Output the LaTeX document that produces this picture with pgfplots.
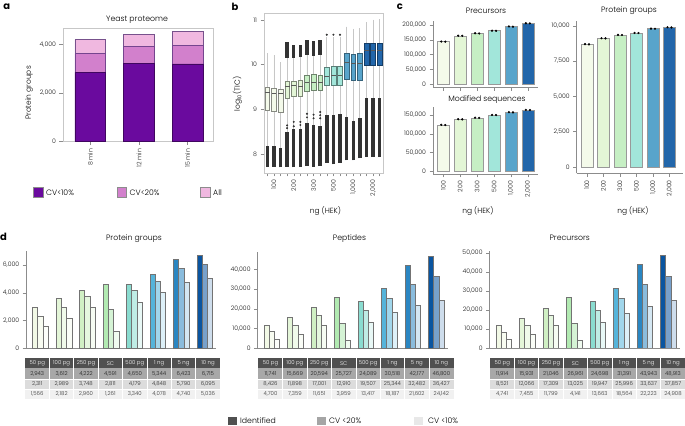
\documentclass[border=0pt]{standalone}
\usepackage{fontspec}
\setmainfont{Poppins}[UprightFont={* Light}, BoldFont={* Bold}]
\usepackage{pgfplots}
\pgfplotsset{compat=1.18}
\usepgfplotslibrary{statistics}

\definecolor{pa1}{HTML}{6A0A9E}
\definecolor{pa2}{HTML}{D280CC}
\definecolor{pa3}{HTML}{F0B8E0}
\definecolor{g1}{HTML}{F4FAEA}
\definecolor{g2}{HTML}{E3F6D6}
\definecolor{g3}{HTML}{C6EFC4}
\definecolor{g4}{HTML}{A2E6DA}
\definecolor{g5}{HTML}{58A4CB}
\definecolor{g6}{HTML}{2266AA}
\definecolor{d1}{HTML}{F2F9E6}
\definecolor{d2}{HTML}{E4F6D8}
\definecolor{d3}{HTML}{D0F0C4}
\definecolor{d4}{HTML}{B2EAB2}
\definecolor{d5}{HTML}{8ADCD0}
\definecolor{d6}{HTML}{55B4DA}
\definecolor{d7}{HTML}{2A86C2}
\definecolor{d8}{HTML}{0A55A0}
\definecolor{th}{HTML}{505050}
\definecolor{r1}{HTML}{A8A8A8}
\definecolor{r2}{HTML}{DCDCDC}
\definecolor{r3}{HTML}{F1F1F1}
\definecolor{lg1}{HTML}{505050}
\definecolor{lg2}{HTML}{A5A5A5}
\definecolor{lg3}{HTML}{E8E8E8}

\pgfplotsset{
 myax/.style={scale only axis, anchor=south west,
   /pgf/number format/fixed,
   /pgf/number format/assume math mode=true,
   /pgf/number format/1000 sep={,},
   scaled y ticks=false,
   tick label style={font=\fontsize{6.2}{7}\selectfont, text=black!90},
   tick align=outside, major tick length=3.5bp,
   tick style={black!45, line width=0.5bp}},
 frameax/.style={myax, axis line style={black!22, line width=0.9bp}, xtick pos=left, ytick pos=left},
 spineax/.style={myax, axis x line*=bottom, axis y line*=left, axis line style={-, black!45, line width=0.7bp}},
 cb/.style={ybar, bar width=0.71, draw=black!40, line width=0.5bp},
 cm/.style={only marks, mark=*, mark size=0.9bp, black},
 dA/.style={ybar, bar width=0.225, bar shift=-0.225, draw=black!55, line width=0.4bp},
 dB/.style={ybar, bar width=0.225, bar shift=0, draw=black!55, line width=0.4bp},
 dC/.style={ybar, bar width=0.225, bar shift=0.225, draw=black!55, line width=0.4bp},
 ob/.style={draw=black!80, line width=3.4bp},
 od/.style={only marks, mark=*, mark size=0.8bp, black!80},
}
\tikzset{
 ttl/.style={font=\fontsize{7.8}{9}\selectfont, inner sep=0},
 lab/.style={font=\fontsize{7.5}{9}\selectfont, inner sep=0},
 leg/.style={font=\fontsize{7.8}{9}\selectfont, inner sep=0, anchor=west},
 tab/.style={font=\fontsize{5.4}{6}\selectfont, inner sep=0},
 pl/.style={font=\bfseries\fontsize{10}{12}\selectfont, inner sep=0},
}

\newcommand\tbl[4]{%
 \fill[th] (#1,358.2) rectangle ++(195.2,10.3);
 \fill[r1] (#1,368.5) rectangle ++(195.2,10.3);
 \fill[r2] (#1,378.8) rectangle ++(195.2,10.3);
 \fill[r3] (#1,389.1) rectangle ++(195.2,10.3);
 \foreach \k in {1,...,7} {\draw[white, line width=0.7] (#1+\k*24.4,358.2) -- ++(0,41.2);}
 \draw[white, line width=0.5] (#1,378.8) -- ++(195.2,0) (#1,389.1) -- ++(195.2,0);
 \foreach \tx [count=\i] in {50 pg,100 pg,250 pg,SC,500 pg,1 ng,5 ng,10 ng} {\node[tab, text=white] at (#1+\i*24.4-12.2,363.35) {\tx};}
 \foreach \tx [count=\i] in {#2} {\node[tab, text=black!90] at (#1+\i*24.4-12.2,373.65) {\tx};}
 \foreach \tx [count=\i] in {#3} {\node[tab, text=black!85] at (#1+\i*24.4-12.2,383.95) {\tx};}
 \foreach \tx [count=\i] in {#4} {\node[tab, text=black!80] at (#1+\i*24.4-12.2,394.25) {\tx};}
}

\begin{document}
\begin{tikzpicture}
\path[use as bounding box] (0,0) rectangle (685bp,426bp);

% ---------- panel a ----------
\begin{axis}[frameax, at={(63bp,284.3bp)}, width=150bp, height=113.4bp,
  xmin=0.44, xmax=3.52, ymin=0, ymax=4676, ytick={0,2000,4000},
  xtick={1,2,3}, xticklabels={8 min,12 min,15 min},
  xticklabel style={rotate=90, anchor=east},
  ybar stacked, bar width=0.63]
\addplot[fill=pa1, draw=pa1!60!black, line width=0.5bp] coordinates {(1,2862) (2,3233) (3,3204)};
\addplot[fill=pa2, draw=pa1!50!gray, line width=0.5bp] coordinates {(1,767) (2,701) (3,771)};
\addplot[fill=pa3, draw=pa1!40!gray, line width=0.5bp] coordinates {(1,577) (2,495) (3,561)};
\end{axis}

% ---------- panel b ----------
\begin{axis}[frameax, at={(264bp,253bp)}, width=119bp, height=159.7bp,
  xmin=0.5, xmax=18.5, ymin=7.575, ymax=11.15, ytick={8,9,10,11},
  xtick={1,...,18}, xticklabels={,100,,,200,,,300,,,500,,,{1,000},,,{2,000},},
  xticklabel style={rotate=90, anchor=east},
  boxplot/draw direction=y,
  boxplot/box extend=0.72, boxplot/whisker extend=0,
  boxplot/every whisker/.style={draw=black!22, line width=0.8bp},
  boxplot/every median/.style={draw=black!65, line width=0.7bp},
  boxplot/every box/.style={line width=0.5bp}]
% whiskers and boxes
\addplot[fill=g1, draw=g1!55!black, boxplot prepared={draw position=1, lower whisker=7.72, lower quartile=8.97, median=9.37, upper quartile=9.49, upper whisker=10.25}] coordinates {};
\addplot[fill=g1, draw=g1!55!black, boxplot prepared={draw position=2, lower whisker=7.72, lower quartile=8.96, median=9.35, upper quartile=9.48, upper whisker=10.22}] coordinates {};
\addplot[fill=g1, draw=g1!55!black, boxplot prepared={draw position=3, lower whisker=7.70, lower quartile=8.93, median=9.35, upper quartile=9.46, upper whisker=10.06}] coordinates {};
\addplot[fill=g2, draw=g2!55!black, boxplot prepared={draw position=4, lower whisker=7.72, lower quartile=9.25, median=9.52, upper quartile=9.62, upper whisker=10.51}] coordinates {};
\addplot[fill=g2, draw=g2!55!black, boxplot prepared={draw position=5, lower whisker=7.70, lower quartile=9.30, median=9.53, upper quartile=9.63, upper whisker=10.45}] coordinates {};
\addplot[fill=g2, draw=g2!55!black, boxplot prepared={draw position=6, lower whisker=7.72, lower quartile=9.30, median=9.52, upper quartile=9.64, upper whisker=10.45}] coordinates {};
\addplot[fill=g3, draw=g3!55!black, boxplot prepared={draw position=7, lower whisker=7.73, lower quartile=9.40, median=9.60, upper quartile=9.77, upper whisker=10.55}] coordinates {};
\addplot[fill=g3, draw=g3!55!black, boxplot prepared={draw position=8, lower whisker=7.72, lower quartile=9.43, median=9.60, upper quartile=9.78, upper whisker=10.53}] coordinates {};
\addplot[fill=g3, draw=g3!55!black, boxplot prepared={draw position=9, lower whisker=7.73, lower quartile=9.42, median=9.60, upper quartile=9.77, upper whisker=10.55}] coordinates {};
\addplot[fill=g4, draw=g4!55!black, boxplot prepared={draw position=10, lower whisker=7.80, lower quartile=9.53, median=9.73, upper quartile=9.95, upper whisker=10.62}] coordinates {};
\addplot[fill=g4, draw=g4!55!black, boxplot prepared={draw position=11, lower whisker=7.77, lower quartile=9.55, median=9.75, upper quartile=9.97, upper whisker=10.62}] coordinates {};
\addplot[fill=g4, draw=g4!55!black, boxplot prepared={draw position=12, lower whisker=7.80, lower quartile=9.53, median=9.76, upper quartile=9.97, upper whisker=10.62}] coordinates {};
\addplot[fill=g5, draw=g5!60!black, boxplot prepared={draw position=13, lower whisker=7.86, lower quartile=9.68, median=10.05, upper quartile=10.25, upper whisker=10.85}] coordinates {};
\addplot[fill=g5, draw=g5!60!black, boxplot prepared={draw position=14, lower whisker=7.86, lower quartile=9.65, median=10.03, upper quartile=10.24, upper whisker=10.80}] coordinates {};
\addplot[fill=g5, draw=g5!60!black, boxplot prepared={draw position=15, lower whisker=7.90, lower quartile=9.66, median=10.04, upper quartile=10.25, upper whisker=10.82}] coordinates {};
\addplot[fill=g6, draw=g6!60!black, boxplot prepared={draw position=16, lower whisker=7.93, lower quartile=9.98, median=10.32, upper quartile=10.47, upper whisker=10.95}] coordinates {};
\addplot[fill=g6, draw=g6!60!black, boxplot prepared={draw position=17, lower whisker=7.93, lower quartile=9.98, median=10.32, upper quartile=10.47, upper whisker=11.00}] coordinates {};
\addplot[fill=g6, draw=g6!60!black, boxplot prepared={draw position=18, lower whisker=7.93, lower quartile=9.98, median=10.32, upper quartile=10.47, upper whisker=11.02}] coordinates {};
% dense outliers (low)
\addplot[ob] coordinates {(1,7.72) (1,8.17)};
\addplot[ob] coordinates {(2,7.72) (2,8.18)};
\addplot[ob] coordinates {(3,7.70) (3,8.13)};
\addplot[ob] coordinates {(4,7.72) (4,8.50)};
\addplot[ob] coordinates {(5,7.70) (5,8.55)};
\addplot[ob] coordinates {(6,7.72) (6,8.55)};
\addplot[ob] coordinates {(7,7.73) (7,8.70)};
\addplot[ob] coordinates {(8,7.72) (8,8.65)};
\addplot[ob] coordinates {(9,7.73) (9,8.62)};
\addplot[ob] coordinates {(10,7.80) (10,8.88)};
\addplot[ob] coordinates {(11,7.77) (11,8.88)};
\addplot[ob] coordinates {(12,7.80) (12,8.90)};
\addplot[ob] coordinates {(13,7.86) (13,8.82)};
\addplot[ob] coordinates {(14,7.86) (14,8.75)};
\addplot[ob] coordinates {(15,7.90) (15,8.80)};
\addplot[ob] coordinates {(16,7.93) (16,9.25)};
\addplot[ob] coordinates {(17,7.93) (17,9.25)};
\addplot[ob] coordinates {(18,7.93) (18,9.25)};
% dense outliers (high)
\addplot[ob] coordinates {(4,10.15) (4,10.51)};
\addplot[ob] coordinates {(5,10.15) (5,10.45)};
\addplot[ob] coordinates {(6,10.17) (6,10.45)};
\addplot[ob] coordinates {(7,10.22) (7,10.55)};
\addplot[ob] coordinates {(8,10.20) (8,10.53)};
\addplot[ob] coordinates {(9,10.22) (9,10.55)};
% sparse outliers
\addplot[od] coordinates {(4,8.58) (4,8.64) (5,8.62) (5,8.72) (6,8.65) (6,8.72) (7,8.82) (7,8.90) (8,8.80) (8,8.88) (9,8.80) (9,8.87) (9,8.94) (10,10.67) (11,10.67) (12,10.67)};
\end{axis}

% ---------- panel c : precursors ----------
\begin{axis}[spineax, at={(433bp,338.7bp)}, width=105bp, height=66.3bp,
  xmin=0.39, xmax=6.6, ymin=-10135, ymax=213900, ytick={0,50000,100000,150000,200000},
  xtick={1,...,6}, xticklabels={}]
\addplot[cb, fill=g1] coordinates {(1,144000)};
\addplot[cb, fill=g2] coordinates {(2,164000)};
\addplot[cb, fill=g3] coordinates {(3,172000)};
\addplot[cb, fill=g4] coordinates {(4,181000)};
\addplot[cb, fill=g5] coordinates {(5,195000)};
\addplot[cb, fill=g6] coordinates {(6,206000)};
\addplot[cm] coordinates {(0.88,144500) (1.12,144000) (1.88,164300) (2.12,163800) (2.88,172400) (3.12,171800) (3.88,181200) (4.12,180800) (4.88,195400) (5.12,194700) (5.88,206300) (6.12,205800)};
\end{axis}

% ---------- panel c : modified sequences ----------
\begin{axis}[spineax, at={(433bp,252bp)}, width=105bp, height=67bp,
  xmin=0.39, xmax=6.6, ymin=-8065, ymax=172000, ytick={0,50000,100000,150000},
  xtick={1,...,6}, xticklabels={100,200,300,500,{1,000},{2,000}},
  xticklabel style={rotate=90, anchor=east}]
\addplot[cb, fill=g1] coordinates {(1,123700)};
\addplot[cb, fill=g2] coordinates {(2,139000)};
\addplot[cb, fill=g3] coordinates {(3,143000)};
\addplot[cb, fill=g4] coordinates {(4,150500)};
\addplot[cb, fill=g5] coordinates {(5,157800)};
\addplot[cb, fill=g6] coordinates {(6,164000)};
\addplot[cm] coordinates {(0.88,124000) (1.12,123500) (1.88,139200) (2.12,138800) (2.88,143300) (3.12,142800) (3.88,150700) (4.12,150300) (4.88,158100) (5.12,157500) (5.88,164300) (6.12,163800)};
\end{axis}

% ---------- panel c : protein groups ----------
\begin{axis}[spineax, at={(576.7bp,252.7bp)}, width=106.3bp, height=152.6bp,
  xmin=0.376, xmax=6.82, ymin=-446, ymax=10361, ytick={0,2500,5000,7500,10000},
  xtick={1,...,6}, xticklabels={100,200,300,500,{1,000},{2,000}},
  xticklabel style={rotate=90, anchor=east}]
\addplot[cb, fill=g1] coordinates {(1,8690)};
\addplot[cb, fill=g2] coordinates {(2,9115)};
\addplot[cb, fill=g3] coordinates {(3,9350)};
\addplot[cb, fill=g4] coordinates {(4,9490)};
\addplot[cb, fill=g5] coordinates {(5,9795)};
\addplot[cb, fill=g6] coordinates {(6,9890)};
\addplot[cm] coordinates {(0.88,8700) (1.12,8685) (1.88,9120) (2.12,9110) (2.88,9355) (3.12,9345) (3.88,9495) (4.12,9485) (4.88,9800) (5.12,9790) (5.88,9895) (6.12,9885)};
\end{axis}

% ---------- panel d : protein groups ----------
\begin{axis}[spineax, at={(26.2bp,77.8bp)}, width=190.3bp, height=97.5bp,
  xmin=0.4, xmax=8.5, ymin=0, ymax=7040, ytick={0,2000,4000,6000}, xtick=\empty]
\addplot[dA, fill=d1] coordinates {(1,2943)};
\addplot[dB, fill=d1!55!white] coordinates {(1,2311)};
\addplot[dC, fill=d1!20!white] coordinates {(1,1566)};
\addplot[dA, fill=d2] coordinates {(2,3612)};
\addplot[dB, fill=d2!55!white] coordinates {(2,2989)};
\addplot[dC, fill=d2!20!white] coordinates {(2,2182)};
\addplot[dA, fill=d3] coordinates {(3,4222)};
\addplot[dB, fill=d3!55!white] coordinates {(3,3748)};
\addplot[dC, fill=d3!20!white] coordinates {(3,2960)};
\addplot[dA, fill=d4] coordinates {(4,4591)};
\addplot[dB, fill=d4!55!white] coordinates {(4,2811)};
\addplot[dC, fill=d4!20!white] coordinates {(4,1261)};
\addplot[dA, fill=d5] coordinates {(5,4650)};
\addplot[dB, fill=d5!55!white] coordinates {(5,4179)};
\addplot[dC, fill=d5!20!white] coordinates {(5,3340)};
\addplot[dA, fill=d6] coordinates {(6,5344)};
\addplot[dB, fill=d6!55!white] coordinates {(6,4848)};
\addplot[dC, fill=d6!20!white] coordinates {(6,4078)};
\addplot[dA, fill=d7] coordinates {(7,6423)};
\addplot[dB, fill=d7!55!white] coordinates {(7,5790)};
\addplot[dC, fill=d7!20!white] coordinates {(7,4740)};
\addplot[dA, fill=d8] coordinates {(8,6715)};
\addplot[dB, fill=d8!55!white] coordinates {(8,6095)};
\addplot[dC, fill=d8!20!white] coordinates {(8,5036)};
\end{axis}

% ---------- panel d : peptides ----------
\begin{axis}[spineax, at={(257.6bp,77.7bp)}, width=190.35bp, height=96.6bp,
  xmin=0.4, xmax=8.5, ymin=0, ymax=48911, ytick={0,10000,20000,30000,40000}, xtick=\empty]
\addplot[dA, fill=d1] coordinates {(1,11741)};
\addplot[dB, fill=d1!55!white] coordinates {(1,8426)};
\addplot[dC, fill=d1!20!white] coordinates {(1,4700)};
\addplot[dA, fill=d2] coordinates {(2,15669)};
\addplot[dB, fill=d2!55!white] coordinates {(2,11898)};
\addplot[dC, fill=d2!20!white] coordinates {(2,7359)};
\addplot[dA, fill=d3] coordinates {(3,20594)};
\addplot[dB, fill=d3!55!white] coordinates {(3,17001)};
\addplot[dC, fill=d3!20!white] coordinates {(3,11651)};
\addplot[dA, fill=d4] coordinates {(4,25727)};
\addplot[dB, fill=d4!55!white] coordinates {(4,12910)};
\addplot[dC, fill=d4!20!white] coordinates {(4,3959)};
\addplot[dA, fill=d5] coordinates {(5,24089)};
\addplot[dB, fill=d5!55!white] coordinates {(5,19507)};
\addplot[dC, fill=d5!20!white] coordinates {(5,13417)};
\addplot[dA, fill=d6] coordinates {(6,30518)};
\addplot[dB, fill=d6!55!white] coordinates {(6,25344)};
\addplot[dC, fill=d6!20!white] coordinates {(6,18187)};
\addplot[dA, fill=d7] coordinates {(7,42177)};
\addplot[dB, fill=d7!55!white] coordinates {(7,32482)};
\addplot[dC, fill=d7!20!white] coordinates {(7,21602)};
\addplot[dA, fill=d8] coordinates {(8,46800)};
\addplot[dB, fill=d8!55!white] coordinates {(8,36427)};
\addplot[dC, fill=d8!20!white] coordinates {(8,24142)};
\end{axis}

% ---------- panel d : precursors ----------
\begin{axis}[spineax, at={(489.6bp,78bp)}, width=190.4bp, height=97.3bp,
  xmin=0.4, xmax=8.5, ymin=0, ymax=51210, ytick={0,10000,20000,30000,40000,50000}, xtick=\empty]
\addplot[dA, fill=d1] coordinates {(1,11914)};
\addplot[dB, fill=d1!55!white] coordinates {(1,8521)};
\addplot[dC, fill=d1!20!white] coordinates {(1,4741)};
\addplot[dA, fill=d2] coordinates {(2,15931)};
\addplot[dB, fill=d2!55!white] coordinates {(2,12066)};
\addplot[dC, fill=d2!20!white] coordinates {(2,7455)};
\addplot[dA, fill=d3] coordinates {(3,21046)};
\addplot[dB, fill=d3!55!white] coordinates {(3,17309)};
\addplot[dC, fill=d3!20!white] coordinates {(3,11799)};
\addplot[dA, fill=d4] coordinates {(4,26961)};
\addplot[dB, fill=d4!55!white] coordinates {(4,13025)};
\addplot[dC, fill=d4!20!white] coordinates {(4,4141)};
\addplot[dA, fill=d5] coordinates {(5,24698)};
\addplot[dB, fill=d5!55!white] coordinates {(5,19947)};
\addplot[dC, fill=d5!20!white] coordinates {(5,13663)};
\addplot[dA, fill=d6] coordinates {(6,31391)};
\addplot[dB, fill=d6!55!white] coordinates {(6,25996)};
\addplot[dC, fill=d6!20!white] coordinates {(6,18564)};
\addplot[dA, fill=d7] coordinates {(7,43943)};
\addplot[dB, fill=d7!55!white] coordinates {(7,33637)};
\addplot[dC, fill=d7!20!white] coordinates {(7,22223)};
\addplot[dA, fill=d8] coordinates {(8,48913)};
\addplot[dB, fill=d8!55!white] coordinates {(8,37857)};
\addplot[dC, fill=d8!20!white] coordinates {(8,24908)};
\end{axis}

% ---------- texts, legends, tables (pixel coordinates, y down) ----------
\begin{scope}[x=1bp, y=-1bp, yshift=426bp]
\node[pl] at (6.7,6.7) {a};
\node[pl] at (235,6.5) {b};
\node[pl] at (400,7) {c};
\node[pl] at (3.5,236.7) {d};

\node[ttl] at (137,20) {Yeast proteome};
\node[lab, rotate=90] at (29,93) {Protein groups};
\node[lab, rotate=90] at (237.5,94) {log\textsubscript{10}(TIC)};
\node[lab] at (325.5,211) {ng (HEK)};
\node[ttl] at (486,11) {Precursors};
\node[ttl] at (487,100) {Modified sequences};
\node[ttl] at (629,11) {Protein groups};
\node[lab] at (478,211.5) {ng (HEK)};
\node[lab] at (633,211.5) {ng (HEK)};
\node[ttl] at (134,238.3) {Protein groups};
\node[ttl] at (349.5,238.3) {Peptides};
\node[ttl] at (569.7,238.3) {Precursors};

% legend a
\draw[fill=pa1, draw=black!45, line width=0.4] (33.3,187.7) rectangle (43.3,197.3);
\node[leg] at (46,192.5) {CV<10\%};
\draw[fill=pa2, draw=black!45, line width=0.4] (116.7,187.7) rectangle (126.5,197.3);
\node[leg] at (129.5,192.5) {CV<20\%};
\draw[fill=pa3, draw=black!45, line width=0.4] (200,187.7) rectangle (210,197.3);
\node[leg] at (213,192.5) {All};

% tables
\tbl{25}{{2,943},{3,612},{4,222},{4,591},{4,650},{5,344},{6,423},{6,715}}{{2,311},{2,989},{3,748},{2,811},{4,179},{4,848},{5,790},{6,095}}{{1,566},{2,182},{2,960},{1,261},{3,340},{4,078},{4,740},{5,036}}
\tbl{258.3}{{11,741},{15,669},{20,594},{25,727},{24,089},{30,518},{42,177},{46,800}}{{8,426},{11,898},{17,001},{12,910},{19,507},{25,344},{32,482},{36,427}}{{4,700},{7,359},{11,651},{3,959},{13,417},{18,187},{21,602},{24,142}}
\tbl{490}{{11,914},{15,931},{21,046},{26,961},{24,698},{31,391},{43,943},{48,913}}{{8,521},{12,066},{17,309},{13,025},{19,947},{25,996},{33,637},{37,857}}{{4,741},{7,455},{11,799},{4,141},{13,663},{18,564},{22,223},{24,908}}

% bottom legend
\fill[lg1] (228,416.7) rectangle (236.5,425.2);
\node[leg] at (240,421) {Identified};
\fill[lg2] (317,416.7) rectangle (325.5,425.2);
\node[leg] at (329,421) {CV <20\%};
\fill[lg3] (414,416.7) rectangle (422.5,425.2);
\node[leg] at (428,421) {CV <10\%};
\end{scope}
\end{tikzpicture}
\end{document}
